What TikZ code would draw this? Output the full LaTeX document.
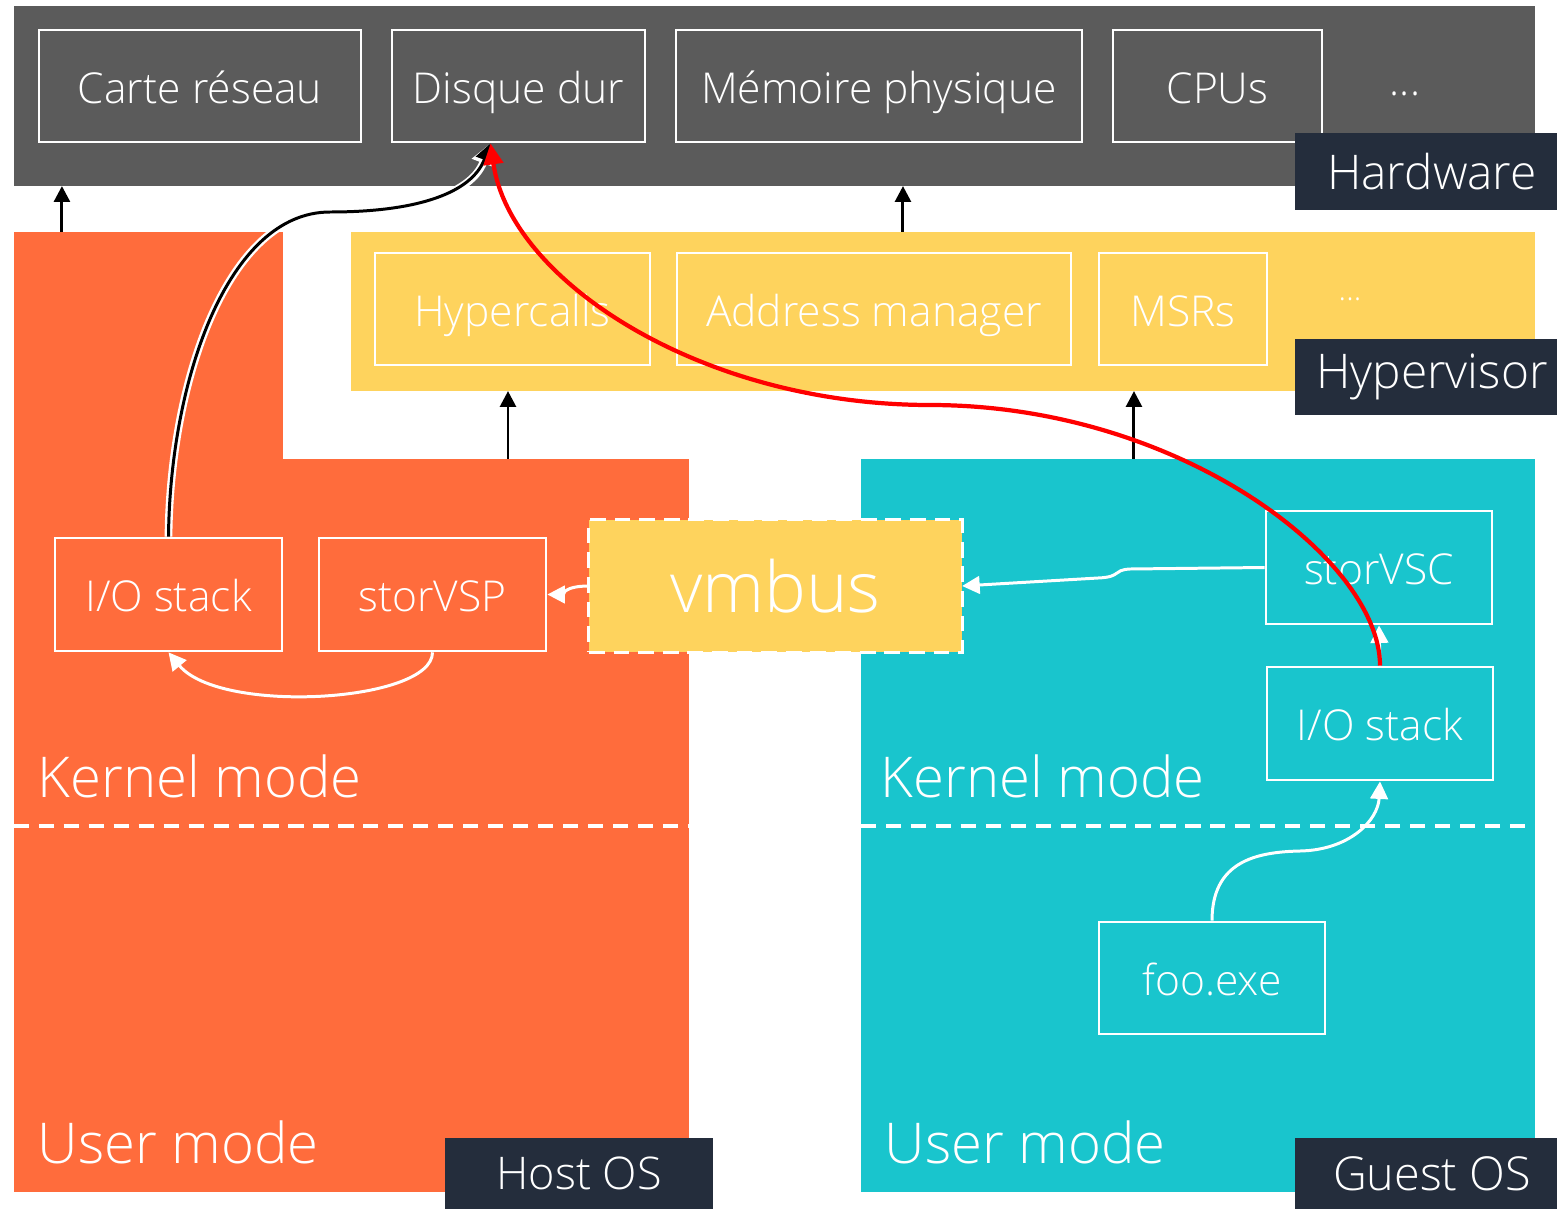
\documentclass[tikz,border=0pt]{standalone}
\usepackage{fontspec}
\setmainfont{Open Sans}[UprightFont=* Light]
\usetikzlibrary{arrows.meta}

\definecolor{hwgray}{HTML}{5B5B5B}
\definecolor{tagnavy}{HTML}{242D3C}
\definecolor{hypyellow}{HTML}{FED35D}
\definecolor{hostorange}{HTML}{FF6C3C}
\definecolor{guestcyan}{HTML}{19C5CD}
\definecolor{pathred}{HTML}{FF0000}

\begin{document}
\begin{tikzpicture}[
    x=0.01cm, y=-0.01cm,
    region/.style={inner sep=0pt, outer sep=0pt},
    unit/.style={draw=white, line width=0.75pt, text=white, inner sep=0pt,
                 text height=9.7pt, text depth=0pt,
                 minimum height=1.12cm, font=\fontsize{12.1}{14}\selectfont},
    tag/.style={fill=tagnavy, text=white, inner sep=0pt,
                minimum width=2.62cm, font=\fontsize{13.6}{16}\selectfont},
    modelabel/.style={text=white, anchor=base west, inner sep=0pt,
                      font=\fontsize{16}{19}\selectfont},
    sep/.style={white, line width=1.1pt, dash pattern=on 4.3pt off 2.8pt},
    hwarrow/.style={-{Triangle[length=4.5pt,width=4.5pt]}, line width=0.85pt},
    flow/.style={white, line width=0.85pt, -{Triangle[length=5pt,width=5pt]}},
    >=Triangle
]
\useasboundingbox (0,0) rectangle (1557,1209);

% --- HARDWARE ---
\node[region, fill=hwgray, minimum width=15.21cm, minimum height=1.80cm] (hw) at (774.5,96) {};
\node[unit, minimum width=3.22cm] (carte) at (200,86) {Carte réseau};
\node[unit, minimum width=2.53cm] (disque) at (518.5,86) {Disque dur};
\node[unit, minimum width=4.06cm] (memoire) at (879,86) {Mémoire physique};
\node[unit, minimum width=2.09cm] (cpus) at (1217.5,86) {CPUs};
\node[text=white, font=\fontsize{12.1}{14}\selectfont] (hwdots) at (1405,94) {...};
\node[tag, minimum height=0.77cm] (hwtag) at (1426,171.5) {\hspace{3.4pt}Hardware};

% --- HYPERVISOR ---
\node[region, fill=hypyellow, minimum width=11.84cm, minimum height=1.59cm] (hyp) at (943,311.5) {};
\node[unit, minimum width=2.75cm] (hypercalls) at (512.5,309) {Hypercalls};
\node[unit, minimum width=3.94cm] (addrmgr) at (874,309) {Address manager};
\node[unit, minimum width=1.68cm] (msrs) at (1183,309) {MSRs};
\node[text=white, font=\fontsize{9}{11}\selectfont] (hypdots) at (1350,299) {...};
\node[tag, minimum height=0.76cm] (hyptag) at (1426,377) {\hspace{3.4pt}Hypervisor};

% --- HOST OS ---
\node[region, fill=hostorange, minimum width=2.69cm, minimum height=2.28cm] (hostup) at (148.5,346) {};
\node[region, fill=hostorange, minimum width=6.75cm, minimum height=7.33cm] (host) at (351.5,825.5) {};
\node[unit, minimum width=2.27cm, minimum height=1.13cm] (hostio) at (168.5,594.5) {I/O stack};
\node[unit, minimum width=2.27cm, minimum height=1.13cm] (storvsp) at (432.5,594.5) {storVSP};
\node[modelabel] (hostkernel) at (37,797) {Kernel mode};
\node[modelabel] (hostuser) at (37,1163) {User mode};
\draw[sep] (host.west |- 0,826) -- (host.east |- 0,826);
\node[tag, minimum width=2.68cm, minimum height=0.71cm,
      font=\fontsize{12.8}{15}\selectfont] (hosttag) at (579,1173.5) {Host OS};

% --- GUEST OS ---
\node[region, fill=guestcyan, minimum width=6.74cm, minimum height=7.33cm] (guest) at (1198,825.5) {};
\node[unit, minimum width=2.26cm, minimum height=1.13cm] (storvsc) at (1379,567.5) {storVSC};
\node[unit, minimum width=2.26cm, minimum height=1.13cm] (guestio) at (1380,723.5) {I/O stack};
\node[unit, minimum width=2.26cm] (foo) at (1212,978) {foo.exe};
\node[modelabel] (guestkernel) at (880,797) {Kernel mode};
\node[modelabel] (guestuser) at (884,1163) {User mode};
\draw[sep] (guest.west |- 0,826) -- (guest.east |- 0,826);
\node[tag, minimum height=0.71cm,
      font=\fontsize{13.3}{16}\selectfont] (guesttag) at (1426,1173.5) {\hspace{3.4pt}Guest OS};

% --- VMBUS ---
\node[region, fill=hypyellow, draw=white, line width=0.85pt, dash pattern=on 4.5pt off 2.5pt,
      minimum width=3.73cm, minimum height=1.32cm, text=white,
      font=\fontsize{20}{24}\selectfont] (vmbus) at (775.5,586) {vmbus};

% layers
\draw[hwarrow] ([xshift=0.48cm]hostup.north west) -- ([xshift=0.48cm]hostup.north west |- hw.south);
\draw[hwarrow] ([xshift=-0.4cm]hyp.north) -- ([xshift=-0.4cm]hyp.north |- hw.south);
\draw[hwarrow] ([xshift=-0.045cm]hypercalls.south |- host.north) -- ([xshift=-0.045cm]hypercalls.south |- hyp.south);
\draw[hwarrow] ([xshift=-0.49cm]msrs.south |- guest.north) -- ([xshift=-0.49cm]msrs.south |- hyp.south);

% guest request
\draw[flow] (foo.north) .. controls (1212,862) and (1255,852) .. (1300,851)
    .. controls (1350,850) and (1378,820) .. (guestio.south);
\draw[flow] (guestio.north) -- (storvsc.south);
\draw[flow] (storvsc.west) -- (1130,569) .. controls (1112,570) and (1122,577) .. (1098,578) -- (vmbus.east);
\draw[flow] (vmbus.west) .. controls +(-25,0) and +(15,0) .. (storvsp.east);
\draw[flow] (storvsp.south) .. controls +(0,50) and (220,715) .. (hostio.south);

% host to disk
\draw[line width=0.85pt, -{Triangle[length=5pt,width=5pt]},
      preaction={draw=white, line width=2.2pt, -{Triangle[length=6pt,width=6.5pt]}}]
    (hostio.north) .. controls (170,380) and (228,212) .. (330,212)
    .. controls (420,212) and (472,192) .. ([xshift=-0.28cm]disque.south);

% direct path
\draw[pathred, line width=1.2pt, -{Triangle[length=6pt,width=5.5pt]}]
    (guestio.north) .. controls (1380,560) and (1180,405) .. (930,405)
    .. controls (700,405) and (510,280) .. ([xshift=-0.28cm]disque.south);
\end{tikzpicture}
\end{document}
